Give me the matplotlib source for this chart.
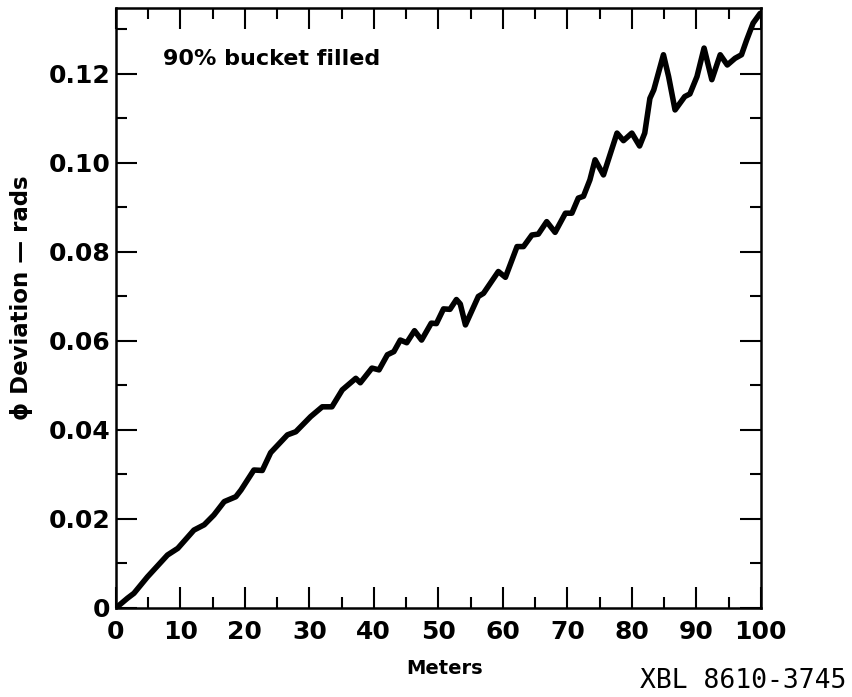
import matplotlib
matplotlib.use("Agg")
from matplotlib import pyplot as plt
from matplotlib.ticker import MultipleLocator

# phase deviation (meters, rads)
meters = [0.0, 1.8, 2.8, 4.9, 8.0, 9.6, 12.1, 13.7, 15.2, 16.8, 18.6, 19.4,
          21.4, 22.7, 24.0, 26.6, 27.9, 30.2, 32.0, 33.5, 35.1, 37.2, 37.9,
          39.7, 40.8, 42.1, 43.1, 44.1, 45.1, 46.3, 47.4, 48.9, 49.7, 50.8,
          51.8, 52.8, 53.4, 54.2, 56.2, 57.0, 59.3, 60.4, 62.2, 63.2, 64.5,
          65.5, 66.8, 68.1, 69.7, 70.7, 71.7, 72.5, 73.5, 74.3, 75.6, 77.7,
          78.7, 80.0, 81.2, 82.0, 82.8, 83.4, 84.9, 85.7, 86.7, 88.2, 89.0,
          90.1, 91.2, 92.4, 93.7, 94.8, 96.0, 97.0, 97.8, 98.8, 99.9]
deviation = [0.0, 0.0022, 0.0033, 0.0070, 0.0119, 0.0134, 0.0175, 0.0187,
             0.0209, 0.0239, 0.0250, 0.0265, 0.0310, 0.0309, 0.0349, 0.0389,
             0.0396, 0.0430, 0.0452, 0.0452, 0.0490, 0.0516, 0.0506, 0.0539,
             0.0535, 0.0569, 0.0576, 0.0602, 0.0596, 0.0623, 0.0602, 0.0640,
             0.0639, 0.0672, 0.0671, 0.0693, 0.0683, 0.0636, 0.0700, 0.0707,
             0.0756, 0.0743, 0.0812, 0.0812, 0.0838, 0.0840, 0.0868, 0.0844,
             0.0887, 0.0887, 0.0921, 0.0925, 0.0962, 0.1007, 0.0973, 0.1067,
             0.1050, 0.1067, 0.1038, 0.1067, 0.1145, 0.1164, 0.1243, 0.1194,
             0.1119, 0.1149, 0.1155, 0.1194, 0.1258, 0.1187, 0.1243, 0.1220,
             0.1235, 0.1243, 0.1276, 0.1314, 0.1336]

x_ticks = [0, 10, 20, 30, 40, 50, 60, 70, 80, 90, 100]
y_ticks = [0, 0.02, 0.04, 0.06, 0.08, 0.10, 0.12]
y_tick_labels = ["0", "0.02", "0.04", "0.06", "0.08", "0.10", "0.12"]

plt.rcParams["font.family"] = ["DejaVu Sans"]
plt.rcParams["font.weight"] = "bold"

fig = plt.figure(figsize=(8.52, 6.97), dpi=100)
ax = fig.add_axes([0.136, 0.1277, 0.757, 0.8608])

ax.plot(meters, deviation, color="black", lw=4,
        solid_joinstyle="round", solid_capstyle="round")

ax.set_xlim(0, 100)
ax.set_ylim(0, 0.1348)
ax.set_xticks(x_ticks)
ax.set_xticklabels([str(t) for t in x_ticks])
ax.set_yticks(y_ticks)
ax.set_yticklabels(y_tick_labels)
ax.xaxis.set_minor_locator(MultipleLocator(5))
ax.yaxis.set_minor_locator(MultipleLocator(0.01))

for s in ax.spines.values():
    s.set_linewidth(1.8)
ax.tick_params(which="both", direction="in", top=True, right=True, width=1.5)
ax.tick_params(which="major", length=15, labelsize=18)
ax.tick_params(which="minor", length=8)
ax.tick_params(axis="y", which="major", pad=4)
ax.tick_params(axis="x", which="major", pad=9)
for lab in ax.get_xticklabels() + ax.get_yticklabels():
    lab.set_fontweight("bold")

ax.set_xlabel("Meters", fontsize=14, fontweight="bold")
ax.xaxis.set_label_coords(0.51, -0.085)
ax.set_ylabel("\u03d5 Deviation \u2014 rads", fontsize=16.5, fontweight="bold")
ax.yaxis.set_label_coords(-0.128, 0.518)

ax.text(0.073, 0.905, "90% bucket filled", transform=ax.transAxes,
        fontsize=16, fontweight="bold", va="baseline")

fig.text(640 / 852, 1 - 688 / 697, "XBL 8610-3745", family="DejaVu Sans Mono",
         fontsize=19, fontweight="normal", va="baseline")

fig.savefig("out.png", dpi=100)
